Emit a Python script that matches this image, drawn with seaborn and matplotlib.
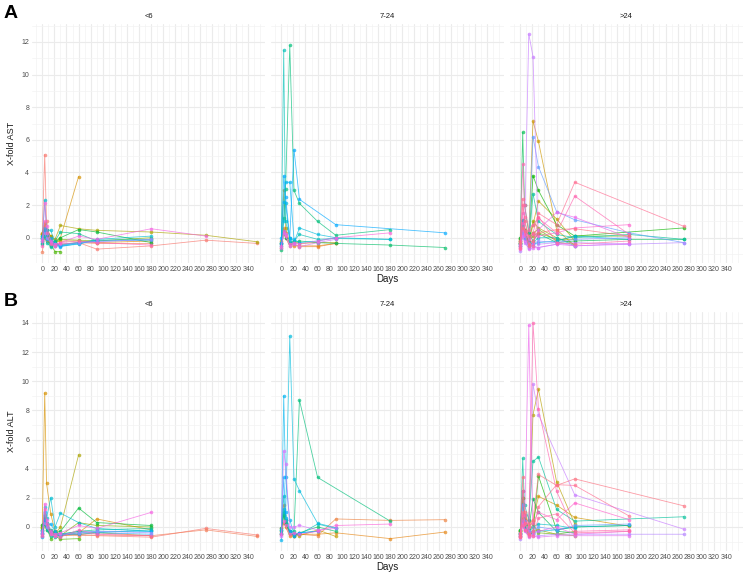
import matplotlib
matplotlib.use('Agg')
import numpy as np
import pandas as pd
import matplotlib.pyplot as plt
import seaborn as sns
from matplotlib.ticker import MultipleLocator

_ = None

# sampling days shared by all patients
DAYS = [0, 4, 7, 14, 21, 30, 60, 90, 180, 270, 355]

# X-fold AST, one list per patient (patient id -> values at DAYS)
ast_lt6 = {
    0: [0.2, 5.1, 1.0, -0.3, -0.4, -0.4, -0.3, -0.7, -0.5, -0.15, -0.35],
    5: [0.3, 0.9, 0.5, 0.1, -0.2, 0.0, 3.75, _, _, _, _],
    9: [0.25, 0.6, 0.3, 0.1, -0.1, 0.75, 0.55, 0.45, 0.35, 0.15, -0.25],
    14: [0.0, 0.3, 0.1, -0.4, -0.85, -0.85, _, _, _, _, _],
    16: [0.1, 0.5, 0.2, -0.2, -0.3, 0.0, 0.5, 0.35, -0.3, _, _],
    20: [-0.3, 0.4, 0.2, -0.5, -0.2, 0.35, 0.25, -0.2, _, _, _],
    25: [-0.2, 2.3, 0.5, 0.45, -0.3, -0.5, -0.4, -0.1, 0.1, _, _],
    29: [0.1, 0.6, 0.2, 0.0, -0.4, -0.55, -0.35, -0.2, _, _, _],
    34: [-0.1, 0.3, 0.0, -0.3, -0.5, -0.4, -0.3, -0.25, -0.1, _, _],
    40: [-0.2, 2.1, 0.7, -0.2, -0.4, -0.3, 0.1, -0.1, 0.55, 0.1, _],
    43: [-0.5, 1.0, 0.3, -0.4, -0.5, -0.3, -0.2, -0.3, -0.45, _, _],
    1: [-0.85, 0.0, -0.2, -0.35, -0.45, -0.4, -0.3, -0.35, -0.35, _, _],
    4: [0.2, 0.8, 0.1, -0.1, -0.3, -0.2, -0.2, -0.3, -0.2, _, _],
    12: [0.0, 0.2, -0.1, -0.5, -0.3, -0.1, -0.15, -0.2, 0.0, _, _],
    22: [-0.4, 0.1, -0.3, -0.55, -0.4, -0.45, -0.3, -0.15, -0.1, _, _],
    31: [0.0, 0.4, -0.1, -0.2, -0.5, -0.5, -0.3, -0.2, -0.15, _, _],
}
ast_7_24 = {
    23: [-0.3, 11.5, 1.0, 0.0, -0.2, 0.2, -0.1, -0.05, -0.1, _, _],
    19: [-0.4, 1.2, 3.0, 11.8, 2.9, 2.1, 1.0, 0.15, 0.5, _, _],
    30: [-0.3, 3.8, 2.5, 0.0, 5.4, 2.35, _, 0.8, _, 0.3, _],
    28: [0.0, 2.2, 3.4, 3.4, -0.1, -0.3, -0.2, 0.0, _, _, _],
    7: [-0.2, 2.9, 0.6, -0.3, -0.2, -0.35, -0.3, -0.3, _, _, _],
    2: [-0.3, 0.6, 0.3, -0.4, -0.4, -0.55, -0.55, -0.35, _, _, _],
    18: [-0.75, 0.4, 0.0, -0.3, -0.3, -0.2, -0.3, -0.35, -0.45, -0.6, _],
    41: [-0.5, 0.4, 0.1, -0.4, -0.3, -0.4, -0.2, 0.0, 0.3, _, _],
    37: [-0.6, 0.3, 0.2, -0.5, -0.4, -0.55, -0.3, -0.1, _, _, _],
    26: [-0.5, 1.0, 2.15, -0.2, -0.3, 0.6, 0.2, 0.0, -0.1, _, _],
    3: [-0.6, 0.3, 0.0, -0.5, -0.5, -0.5, -0.5, -0.35, _, _, _],
}
ast_gt24 = {
    36: [-0.5, 0.5, 0.2, 12.5, 11.1, -0.4, -0.3, -0.5, -0.4, _, _],
    17: [0.0, 6.45, 2.0, 0.3, -0.2, 0.25, -0.3, -0.2, -0.1, -0.1, _],
    6: [-0.3, 1.0, 0.5, 0.2, 7.15, 5.9, 0.5, -0.5, _, _, _],
    32: [-0.4, 0.4, 0.0, -0.3, 6.2, 4.35, 1.6, 1.1, 0.3, -0.3, _],
    46: [-0.6, 2.4, 1.0, 0.1, 0.3, 1.5, 0.8, 3.4, _, 0.7, _],
    44: [-0.2, 4.5, 2.0, 0.5, 0.8, 1.2, 0.3, 2.55, 0.2, _, _],
    15: [-0.3, 1.0, 0.3, -0.3, 3.8, 2.9, 0.8, 0.1, _, 0.6, _],
    21: [-0.5, 1.1, 0.4, -0.5, 2.7, 1.0, 0.2, 0.0, 0.2, -0.1, _],
    8: [-0.2, 0.5, 0.3, -0.2, 0.8, 2.25, 1.15, -0.2, _, _, _],
    39: [-0.4, 1.5, 0.4, -0.1, -0.3, 0.5, 1.55, 1.25, 0.0, _, _],
    42: [-0.7, 0.9, 0.2, -0.4, 0.2, 0.1, 0.3, 0.6, 0.8, _, _],
    47: [-0.3, 0.6, 0.4, -0.5, -0.2, 0.3, 0.5, 0.55, 0.1, _, _],
    35: [-0.8, 0.2, -0.3, -0.6, -0.5, -0.6, -0.4, -0.3, -0.4, -0.3, _],
    45: [-0.5, 2.0, 1.3, -0.4, -0.5, 1.3, -0.3, -0.4, -0.2, _, _],
    38: [-0.6, 0.1, -0.2, -0.7, -0.6, -0.6, -0.4, -0.5, -0.35, _, _],
    27: [-0.4, 0.3, -0.1, -0.3, -0.4, -0.3, -0.2, 0.1, -0.1, _, _],
    11: [0.0, 0.4, 0.0, -0.2, 0.1, 0.3, -0.1, -0.1, _, _, _],
    24: [-0.3, 1.0, 0.2, -0.4, -0.3, 0.0, 0.0, -0.5, _, _, _],
    33: [-0.5, 0.6, 0.1, -0.6, -0.4, -0.2, -0.3, -0.1, 0.0, _, _],
    10: [-0.2, 0.8, 0.3, -0.3, 1.0, 0.6, 0.0, -0.4, _, _, _],
    13: [-0.1, 1.1, 0.5, -0.2, 0.3, 0.5, -0.2, 0.1, 0.1, _, _],
}

# X-fold ALT
alt_lt6 = {
    0: [-0.3, 0.6, 0.2, -0.4, -0.5, -0.6, -0.5, -0.6, -0.7, -0.1, -0.55],
    1: [-0.6, 0.2, -0.1, -0.5, -0.6, -0.5, -0.6, -0.55, -0.6, -0.2, -0.65],
    5: [0.1, 9.2, 3.0, 0.9, -0.3, -0.5, -0.4, 0.55, -0.2, _, _],
    9: [0.0, 0.4, 0.1, -0.3, -0.5, 0.0, 4.95, _, _, _, _],
    14: [-0.2, 0.3, 0.0, -0.8, -0.6, -0.85, -0.8, _, _, _, _],
    16: [0.1, 0.5, 0.2, -0.3, -0.4, -0.3, 1.3, 0.3, 0.1, _, _],
    12: [-0.1, 0.2, -0.2, -0.5, -0.3, -0.6, 0.3, 0.1, 0.0, _, _],
    20: [-0.5, 0.8, 0.3, -0.2, -0.4, -0.5, -0.3, -0.2, -0.1, _, _],
    25: [-0.2, 1.4, 0.6, 2.0, 0.0, 0.95, 0.3, -0.1, -0.3, _, _],
    29: [-0.7, 1.0, 0.2, 0.2, -0.3, -0.6, -0.4, -0.3, -0.3, _, _],
    31: [-0.4, 0.5, 0.0, -0.4, -0.6, -0.5, -0.5, -0.4, -0.5, _, _],
    34: [-0.3, 0.3, 0.0, -0.5, -0.6, -0.5, -0.4, -0.3, -0.4, _, _],
    40: [-0.5, 1.6, 0.5, -0.3, -0.5, -0.4, 0.1, -0.1, 1.0, _, _],
    43: [-0.6, 1.2, 0.2, -0.5, -0.6, -0.7, -0.2, -0.5, -0.6, _, _],
    4: [0.0, 0.6, 0.1, -0.4, -0.5, -0.6, -0.5, -0.4, -0.6, _, _],
    22: [-0.4, 0.2, -0.2, -0.6, -0.7, -0.5, -0.3, -0.4, -0.2, _, _],
}
alt_7_24 = {
    23: [-0.2, 2.1, 0.5, -0.3, -0.4, -0.5, 0.2, -0.1, _, _, _],
    19: [-0.5, 1.0, 0.2, -0.4, -0.3, 8.7, 3.4, _, 0.4, _, _],
    28: [-0.9, 9.0, 3.4, 0.5, -0.5, -0.4, -0.3, _, _, _, _],
    30: [-0.4, 3.4, 1.0, -0.3, -0.6, -0.4, -0.3, _, _, _, _],
    7: [-0.3, 0.8, 0.3, -0.5, -0.5, -0.6, -0.2, -0.65, _, _, _],
    2: [-0.1, 1.5, 0.5, -0.5, -0.6, -0.5, -0.6, 0.55, 0.45, 0.5, _],
    18: [-0.1, 0.8, 0.3, -0.3, -0.6, -0.4, 0.0, -0.3, _, _, _],
    41: [-0.5, 0.4, 0.1, -0.5, -0.4, -0.5, -0.3, 0.1, 0.2, _, _],
    37: [-0.6, 5.2, 4.3, 0.0, 0.0, 0.1, -0.2, -0.1, _, _, _],
    26: [-0.2, 1.2, 0.6, 13.1, 3.3, 2.5, 0.25, -0.05, _, _, _],
    3: [-0.5, 0.3, 0.0, -0.6, -0.6, -0.5, -0.5, -0.4, -0.8, -0.35, _],
}
alt_gt24 = {
    36: [-0.6, 0.5, 0.3, -0.3, 9.8, 7.7, _, 2.2, _, -0.15, _],
    39: [-0.5, 0.3, -0.2, 13.85, -0.4, -0.3, 0.0, -0.5, -0.3, _, _],
    44: [-0.4, 0.8, 0.3, -0.5, 14.0, 8.1, 2.45, -0.3, -0.2, _, _],
    8: [-0.3, 2.0, 0.6, 0.4, 7.7, 9.45, 3.1, 0.2, _, _, _],
    21: [-0.4, 4.7, 1.5, 0.5, 4.5, 4.8, 1.2, 0.4, _, 0.7, _],
    47: [-0.5, 3.4, 1.0, 0.2, 0.5, 3.6, 2.85, 3.3, _, 1.45, _],
    42: [-0.6, 2.45, 0.8, 0.0, 0.3, 1.0, 0.5, 1.65, 0.5, _, _],
    6: [-0.3, 2.0, 0.5, 0.0, 0.4, 2.1, 1.5, 0.65, 0.05, _, _],
    32: [-0.5, 1.5, 0.4, -0.4, -0.3, 0.0, -0.2, 0.1, 0.2, _, _],
    46: [-0.7, 1.0, 0.3, -0.5, -0.3, 1.4, 2.9, 2.85, 0.75, _, _],
    17: [-0.2, 2.5, 0.8, -0.2, 1.95, 1.0, -0.3, -0.4, _, _, _],
    15: [-0.6, 0.5, 0.0, -0.5, -0.4, 3.5, -0.2, 0.0, 0.1, _, _],
    35: [-0.8, 0.2, -0.3, -0.6, -0.5, -0.6, -0.5, -0.5, -0.5, -0.5, _],
    45: [-0.7, 0.1, -0.2, -0.6, -0.6, 0.6, 0.9, -0.4, -0.3, _, _],
    38: [-0.6, 0.1, -0.2, -0.7, -0.6, -0.7, -0.6, -0.6, -0.6, _, _],
    27: [-0.5, 0.3, -0.1, -0.3, -0.4, -0.3, -0.2, 0.0, 0.1, _, _],
    24: [-0.4, 1.6, 0.3, -0.4, 0.0, 0.2, 0.1, -0.1, _, _, _],
    10: [-0.3, 0.6, 0.2, -0.4, -0.3, -0.2, -0.5, -0.6, _, _, _],
    13: [-0.2, 0.4, 0.1, -0.4, 0.2, -0.4, -0.5, -0.3, _, _, _],
}

GROUPS = ["<6", "7-24", ">24"]
N_PATIENTS = 48


def hcl_hex(h, c=100.0, l=65.0):
    # ggplot2 style hue palette (polar Luv -> sRGB)
    hr = np.radians(h)
    u, v = c * np.cos(hr), c * np.sin(hr)
    xn, yn, zn = 95.047, 100.0, 108.883
    un = 4 * xn / (xn + 15 * yn + 3 * zn)
    vn = 9 * yn / (xn + 15 * yn + 3 * zn)
    y = yn * ((l + 16) / 116) ** 3
    up = u / (13 * l) + un
    vp = v / (13 * l) + vn
    x = y * 9 * up / (4 * vp)
    z = y * (12 - 3 * up - 20 * vp) / (4 * vp)
    xyz = np.array([x, y, z]) / 100
    m = np.array([[3.2406, -1.5372, -0.4986],
                  [-0.9689, 1.8758, 0.0415],
                  [0.0557, -0.2040, 1.0570]])
    rgb = m @ xyz
    rgb = np.where(rgb <= 0.0031308, 12.92 * rgb, 1.055 * np.abs(rgb) ** (1 / 2.4) - 0.055)
    return tuple(np.clip(rgb, 0, 1))


palette = {i: hcl_hex(15 + 360 * i / N_PATIENTS) for i in range(N_PATIENTS)}


def to_long(panel):
    rows = []
    for pid, vals in panel.items():
        for d, v in zip(DAYS, vals):
            if v is not None:
                rows.append((d, v, pid))
    return pd.DataFrame(rows, columns=["day", "value", "patient"])


sns.set_style("white")
plt.rcParams["font.family"] = ["Liberation Sans", "DejaVu Sans"]

W, H = 747, 574
fig = plt.figure(figsize=(W / 100, H / 100), dpi=100)

rows = [
    ("A", "X-fold AST", [ast_lt6, ast_7_24, ast_gt24], (24, 263), (-1.55, 13.1)),
    ("B", "X-fold ALT", [alt_lt6, alt_7_24, alt_gt24], (312, 551), (-1.65, 14.75)),
]
lefts = [32, 271, 510]
pw = 233

for tag, ylab, panels, (top, bot), ylim in rows:
    for j, (panel, grp) in enumerate(zip(panels, GROUPS)):
        ax = fig.add_axes([lefts[j] / W, 1 - bot / H, pw / W, (bot - top) / H])
        df = to_long(panel)
        sns.lineplot(data=df, x="day", y="value", hue="patient", palette=palette,
                     estimator=None, sort=True, marker="o", markersize=2.6,
                     markeredgewidth=0, linewidth=0.6, alpha=0.7,
                     legend=False, ax=ax)
        ax.set_xlim(-17, 368)
        ax.set_ylim(*ylim)
        ax.xaxis.set_minor_locator(MultipleLocator(10))
        ax.yaxis.set_major_locator(MultipleLocator(2))
        ax.yaxis.set_minor_locator(MultipleLocator(1))
        ax.set_xticks(np.arange(0, 341, 20))
        ax.grid(which="major", color="#EBEBEB", linewidth=0.8)
        ax.grid(which="minor", color="#F3F3F3", linewidth=0.5)
        ax.set_axisbelow(True)
        for s in ax.spines.values():
            s.set_visible(False)
        ax.tick_params(which="both", length=0, labelsize=5, colors="#4D4D4D", pad=2)
        ax.set_title(grp, fontsize=5.5, color="#1A1A1A", pad=4)
        ax.set_xlabel("Days" if j == 1 else "", fontsize=7, color="#1A1A1A", labelpad=1)
        if j == 0:
            ax.set_ylabel(ylab, fontsize=6.5, color="#1A1A1A", labelpad=4)
        else:
            ax.set_ylabel("")
            ax.tick_params(labelleft=False)
    fig.text(4 / W, 1 - (top - 11) / H, tag, fontsize=14, fontweight="bold",
             color="black", va="center")

fig.savefig("out.png", dpi=100)
